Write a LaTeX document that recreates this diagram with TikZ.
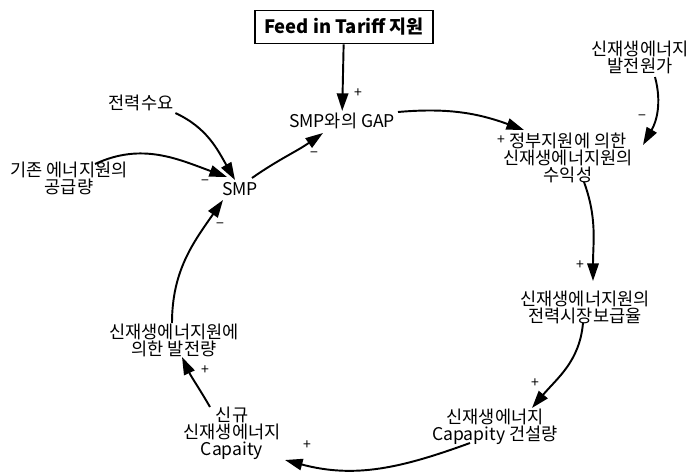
\documentclass[tikz,border=0pt]{standalone}
\usepackage{fontspec}
\setmainfont{Noto Sans CJK KR}
\usetikzlibrary{arrows.meta}

\begin{document}
\begin{tikzpicture}[
    x=0.02cm, y=-0.02cm,
    every node/.style={
        align=center,
        inner sep=1pt,
        font=\fontsize{10}{9.6}\selectfont
    },
    titlebox/.style={
        draw,
        line width=1pt,
        minimum width=3.56cm,
        minimum height=0.66cm,
        font=\fontsize{10.5}{12}\selectfont\bfseries
    },
    sign/.style={inner sep=0pt, font=\fontsize{8}{8}\selectfont},
    arrow/.style={-{Triangle[length=10pt,width=6.5pt]}, line width=1.1pt}
]
    \useasboundingbox (0,0) rectangle (693,473);

    % variables
    \node[titlebox] (fit) at (344,27) {Feed in Tariff 지원};
    \node (gap) at (342,121) {SMP와의 GAP};
    \node (profit) at (568,158) {정부지원에 의한\\신재생에너지원의\\수익성};
    \node (cost) at (640,57) {신재생에너지\\발전원가};
    \node (demand) at (141,103) {전력수요};
    \node (supply) at (69,178) {기존 에너지원의\\공급량};
    \node (smp) at (240,189) {SMP};
    \node (share) at (585,307) {신재생에너지원의\\전력시장보급율};
    \node (build) at (495,427) {신재생에너지\\Capapity 건설량};
    \node (new) at (232,433) {신규\\신재생에너지\\Capaity};
    \node (gen) at (174,340) {신재생에너지원에\\의한 발전량};

    % links
    \draw[arrow] (demand.south east) to[out=-25,in=120] ([shift={(-5,-9)}]smp.center);
    \draw[arrow] (fit) -- (gap);
    \draw[arrow] ([shift={(26,-14)}]supply.center) to[out=25,in=160] ([shift={(-13,-12)}]smp.center);
    \draw[arrow] ([shift={(12,-11)}]smp.center) to[out=35,in=-145] ([shift={(-19,12)}]gap.center);
    \draw[arrow] ([shift={(56,-9)}]gap.center) to[out=5,in=160] ([shift={(-44,-28)}]profit.center);
    \draw[arrow] ([shift={(15,20)}]cost.center) to[out=-75,in=60] ([shift={(75,-13)}]profit.center);
    \draw[arrow] ([shift={(16,24)}]profit.center) to[out=-70,in=90] ([shift={(8,-26)}]share.center);
    \draw[arrow] ([shift={(-2,16)}]share.center) to[out=-95,in=50] ([shift={(37,-19)}]build.center);
    \draw[arrow] ([shift={(-25,16)}]build.center) to[out=-160,in=-15] ([shift={(53,27)}]new.center);
    \draw[arrow] ([shift={(-22,-26)}]new.center) to[out=120,in=-65] ([shift={(8,17)}]gen.center);
    \draw[arrow] ([shift={(-2,-17)}]gen.center) to[out=90,in=-125] ([shift={(-17,11)}]smp.center);

    % polarities
    \node[sign] (p1) at (358,93) {+};
    \node[sign] (p2) at (205,183) {−};
    \node[sign] (p3) at (314,155) {−};
    \node[sign] (p4) at (501,140) {+};
    \node[sign] (p5) at (642,118) {−};
    \node[sign] (p6) at (580,265) {+};
    \node[sign] (p7) at (535,383) {+};
    \node[sign] (p8) at (307,445) {+};
    \node[sign] (p9) at (205,370) {+};
    \node[sign] (p10) at (220,226) {−};

\end{tikzpicture}
\end{document}
